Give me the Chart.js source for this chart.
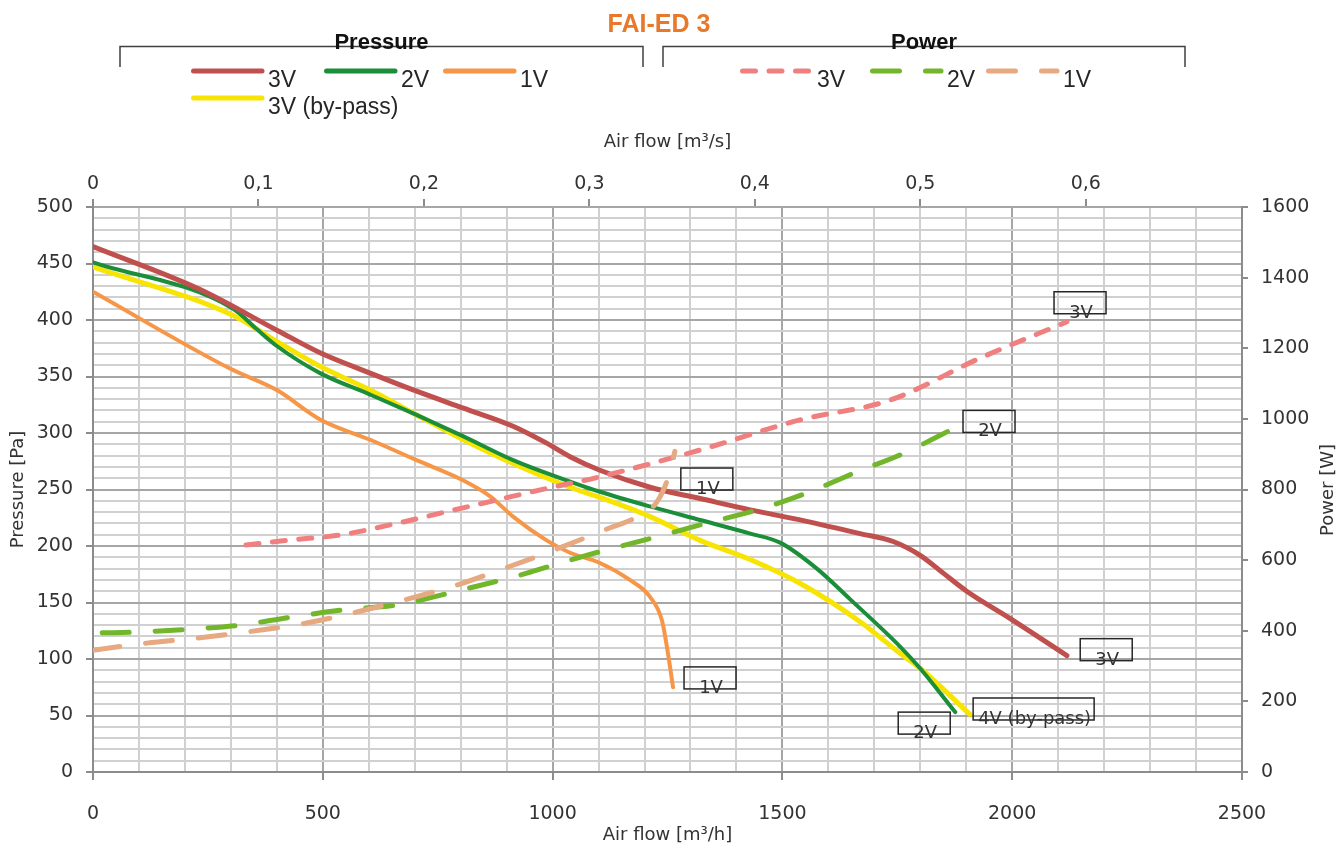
<!DOCTYPE html>
<html>
<head>
<meta charset="utf-8">
<title>FAI-ED 3</title>
<script src="https://cdn.jsdelivr.net/npm/chart.js@4.4.1/dist/chart.umd.min.js"></script>
<style>
  html, body { margin: 0; padding: 0; background: #ffffff; }
  #wrap { width: 1343px; height: 849px; position: relative; }
</style>
</head>
<body>
<div id="wrap"><canvas id="chart"></canvas></div>
<script>
// pressure curves : air flow [m3/h] -> pressure [Pa]
var flow3V  = [0, 233, 400, 494, 603, 704, 806, 914, 987, 1038, 1103, 1212, 1321, 1430, 1550, 1669, 1741, 1799, 1850, 1901, 1995, 2119];
var pa3V    = [465, 427, 391, 371, 353, 337, 322, 306, 291, 279, 267, 252, 242, 232, 222, 211, 204, 192, 176, 160, 136, 103];
var flow2V  = [0, 305, 356, 400, 494, 603, 704, 806, 914, 1038, 1103, 1212, 1321, 1430, 1495, 1575, 1647, 1756, 1799, 1876];
var pa2V    = [451, 410, 392, 377, 353, 334, 316, 297, 276, 257, 248, 235, 223, 211, 203, 180, 153, 111, 92, 53];
var flow1V  = [0, 298, 400, 494, 603, 704, 806, 864, 914, 987, 1038, 1103, 1168, 1212, 1238, 1251, 1262];
var pa1V    = [425, 357, 338, 312, 294, 276, 258, 244, 226, 205, 194, 185, 170, 155, 134, 105, 75];
var flowByp = [0, 305, 400, 494, 603, 704, 806, 914, 1038, 1103, 1212, 1321, 1430, 1538, 1669, 1756, 1799, 1908];
var paByp   = [447, 404, 381, 359, 338, 316, 294, 273, 252, 243, 226, 205, 188, 167, 133, 105, 92, 51];

// power curves : air flow [m3/h] -> power [W]
var flowW3V = [333, 429, 537, 661, 769, 878, 987, 1103, 1321, 1538, 1734, 1930, 2119];
var watt3V  = [643, 657, 671, 704, 737, 770, 803, 836, 912, 997, 1053, 1172, 1275];
var flowW2V = [20, 87, 204, 320, 428, 545, 661, 800, 944, 1002, 1103, 1227, 1336, 1445, 1553, 1662, 1756, 1884];
var watt2V  = [394, 396, 404, 416, 438, 459, 473, 515, 563, 586, 624, 666, 705, 742, 790, 850, 898, 980];
var flowW1V = [0, 117, 233, 348, 465, 574, 700, 800, 885, 994, 1124, 1183, 1227, 1251, 1266];
var watt1V  = [345, 365, 380, 399, 422, 453, 495, 533, 572, 624, 691, 722, 765, 832, 908];

// axis ticks
var topFlowTicks = [0, 0.1, 0.2, 0.3, 0.4, 0.5, 0.6];   // m3/s

// label boxes on the curves (text, air flow, pressure of box top-left)
var calloutText = ['3V', '2V', '1V', '3V', '1V', '2V', '4V (by-pass)'];
var calloutFlow = [2091, 1893, 1279, 2148, 1286, 1752, 1915];
var calloutPa   = [425, 320, 269, 118, 93, 53, 65.5];

var chartTitle = 'FAI-ED 3';

function pts(xs, ys) {
	var out = [];
	for (var i = 0; i < xs.length; i++) out.push({x: xs[i], y: ys[i]});
	return out;
}

function curve(label, xs, ys, color, width, axis, dash, order) {
	return {
		label: label,
		data: pts(xs, ys),
		borderColor: color,
		backgroundColor: color,
		borderWidth: width,
		borderDash: dash,
		borderCapStyle: 'round',
		borderJoinStyle: 'round',
		cubicInterpolationMode: 'monotone',
		pointRadius: 0,
		fill: false,
		yAxisID: axis,
		xAxisID: 'x',
		order: order
	};
}

var datasets = [
	curve('3V', flow3V, pa3V, '#C0504D', 5, 'y', [], 2),
	curve('2V', flow2V, pa2V, '#1B8E3A', 4, 'y', [], 3),
	curve('1V', flow1V, pa1V, '#F79646', 4, 'y', [], 2),
	curve('3V (by-pass)', flowByp, paByp, '#F7E400', 5, 'y', [], 4),
	curve('3V', flowW3V, watt3V, '#F08080', 5, 'y2', [13, 13.5], 1),
	curve('2V', flowW2V, watt2V, '#72B62C', 5, 'y2', [27, 26], 1),
	curve('1V', flowW1V, watt1V, '#E6A981', 5, 'y2', [27, 26], 0)
];

// legend layout: which dataset, where the sample line starts, row y
var legendItems = [
	{ds: 0, x: 191, y: 71}, {ds: 1, x: 324, y: 71}, {ds: 2, x: 443, y: 71},
	{ds: 3, x: 191, y: 98},
	{ds: 4, x: 740, y: 71}, {ds: 5, x: 870, y: 71}, {ds: 6, x: 986, y: 71}
];
var legendGroups = [
	{name: 'Pressure', x1: 120, x2: 643},
	{name: 'Power', x1: 663, x2: 1185}
];

var tickFont = {family: 'DejaVu Sans', size: 19};
var titleFont = {family: 'DejaVu Sans', size: 18};
var textGrey = '#333333';

function isMajor(c, step) {
	return c.tick && Math.round(c.tick.value) % step === 0;
}

var decorPlugin = {
	id: 'decor',
	afterDatasetsDraw: function(chart) {
		var ctx = chart.ctx;
		var sx = chart.scales.x, sy = chart.scales.y;
		ctx.save();
		ctx.font = '18px "DejaVu Sans"';
		for (var i = 0; i < calloutText.length; i++) {
			var left = sx.getPixelForValue(calloutFlow[i]);
			var top = sy.getPixelForValue(calloutPa[i]);
			var tw = ctx.measureText(calloutText[i]).width;
			var w = Math.max(52, tw + 8);
			ctx.strokeStyle = '#262626';
			ctx.lineWidth = 1.5;
			ctx.strokeRect(left, top, w, 22);
			ctx.fillStyle = '#333333';
			ctx.textAlign = 'center';
			ctx.textBaseline = 'alphabetic';
			ctx.fillText(calloutText[i], left + w / 2 + 1, top + 26);
		}
		ctx.restore();
	},
	afterDraw: function(chart) {
		var ctx = chart.ctx;
		ctx.save();
		// title
		ctx.fillStyle = '#E8792B';
		ctx.font = 'bold 25px "Liberation Sans"';
		ctx.textAlign = 'center';
		ctx.textBaseline = 'middle';
		ctx.fillText(chartTitle, 659, 25);

		// right axis title, read bottom to top
		ctx.fillStyle = textGrey;
		ctx.font = '18px "DejaVu Sans"';
		ctx.translate(1328, 490);
		ctx.rotate(-Math.PI / 2);
		ctx.fillText('Power [W]', 0, 0);
		ctx.setTransform(1, 0, 0, 1, 0, 0);

		// group brackets
		legendGroups.forEach(function(g) {
			ctx.strokeStyle = '#404040';
			ctx.lineWidth = 1.5;
			ctx.setLineDash([]);
			ctx.beginPath();
			ctx.moveTo(g.x1, 67); ctx.lineTo(g.x1, 46.5); ctx.lineTo(g.x2, 46.5); ctx.lineTo(g.x2, 67);
			ctx.stroke();
			ctx.fillStyle = '#111111';
			ctx.font = 'bold 22px "Liberation Sans"';
			ctx.textAlign = 'center';
			ctx.textBaseline = 'alphabetic';
			ctx.fillText(g.name, (g.x1 + g.x2) / 2, 49);
		});

		// legend entries
		legendItems.forEach(function(it) {
			var ds = chart.data.datasets[it.ds];
			ctx.save();
			ctx.beginPath();
			ctx.rect(it.x - 3, it.y - 5, 77, 10);
			ctx.clip();
			ctx.strokeStyle = ds.borderColor;
			ctx.lineWidth = 5;
			ctx.lineCap = 'round';
			ctx.setLineDash(ds.borderDash);
			ctx.beginPath();
			ctx.moveTo(it.x + 2.5, it.y);
			ctx.lineTo(it.x + 71, it.y);
			ctx.stroke();
			ctx.restore();
			ctx.fillStyle = '#262626';
			ctx.font = '23px "Liberation Sans"';
			ctx.textAlign = 'left';
			ctx.textBaseline = 'alphabetic';
			ctx.fillText(ds.label, it.x + 77, it.y + 16);
		});
		ctx.restore();
	}
};

var ctx = document.getElementById('chart');
var chart = new Chart(ctx, {
	type: 'line',
	data: {datasets: datasets},
	plugins: [decorPlugin],
	options: {
		responsive: true,
		maintainAspectRatio: false,
		animation: false,
		layout: {padding: {top: 120, left: 0, right: 0, bottom: 0}},
		plugins: {
			legend: {display: false},
			title: {display: false},
			tooltip: {enabled: false}
		},
		scales: {
			x: {
				type: 'linear', position: 'bottom', min: 0, max: 2500,
				ticks: {
					stepSize: 100, autoSkip: false, maxRotation: 0, padding: 23,
					color: textGrey, font: tickFont,
					callback: function(v) { return v % 500 === 0 ? String(v) : ''; }
				},
				grid: {
					lineWidth: 2, tickLength: 8,
					color: function(c) { return isMajor(c, 500) ? '#a6a6a6' : '#d0d0d0'; },
					tickColor: function(c) { return isMajor(c, 500) ? '#8c8c8c' : 'rgba(0,0,0,0)'; }
				},
				border: {color: '#8c8c8c', width: 2},
				title: {display: true, text: 'Air flow [m³/h]', color: textGrey, font: titleFont, padding: {top: 0, bottom: 3}},
				afterFit: function(s) { s.height = 77; }
			},
			x2: {
				type: 'linear', position: 'top', min: 0, max: 2500 / 3600,
				afterBuildTicks: function(s) {
					s.ticks = topFlowTicks.map(function(v) { return {value: v}; });
				},
				ticks: {
					autoSkip: false, maxRotation: 0, padding: 4,
					color: textGrey, font: tickFont,
					callback: function(v) { return v === 0 ? '0' : v.toFixed(1).replace('.', ','); }
				},
				grid: {drawOnChartArea: false, tickLength: 8, color: '#8c8c8c', lineWidth: 2},
				border: {display: false},
				title: {display: true, text: 'Air flow [m³/s]', color: textGrey, font: titleFont, padding: {top: 12, bottom: 0}},
				afterFit: function(s) { s.height = 87; }
			},
			y: {
				type: 'linear', position: 'left', min: 0, max: 500,
				ticks: {
					stepSize: 10, autoSkip: false, padding: 13,
					color: textGrey, font: tickFont,
					callback: function(v) { return v % 50 === 0 ? String(v) : ''; }
				},
				grid: {
					lineWidth: 2, tickLength: 7,
					color: function(c) { return isMajor(c, 50) ? '#a6a6a6' : '#d0d0d0'; },
					tickColor: function(c) { return isMajor(c, 50) ? '#8c8c8c' : 'rgba(0,0,0,0)'; }
				},
				border: {color: '#8c8c8c', width: 2},
				title: {display: true, text: 'Pressure [Pa]', color: textGrey, font: titleFont, padding: {top: 8, bottom: 0}},
				afterFit: function(s) { s.width = 93; }
			},
			y2: {
				type: 'linear', position: 'right', min: 0, max: 1600,
				ticks: {
					stepSize: 200, autoSkip: false, padding: 13, color: textGrey, font: tickFont,
					callback: function(v) { return String(v); }
				},
				grid: {drawOnChartArea: false, tickLength: 6, color: '#8c8c8c', lineWidth: 2},
				border: {color: '#8c8c8c', width: 2},
				afterFit: function(s) { s.width = 101; }
			}
		}
	}
});
</script>
</body>
</html>
